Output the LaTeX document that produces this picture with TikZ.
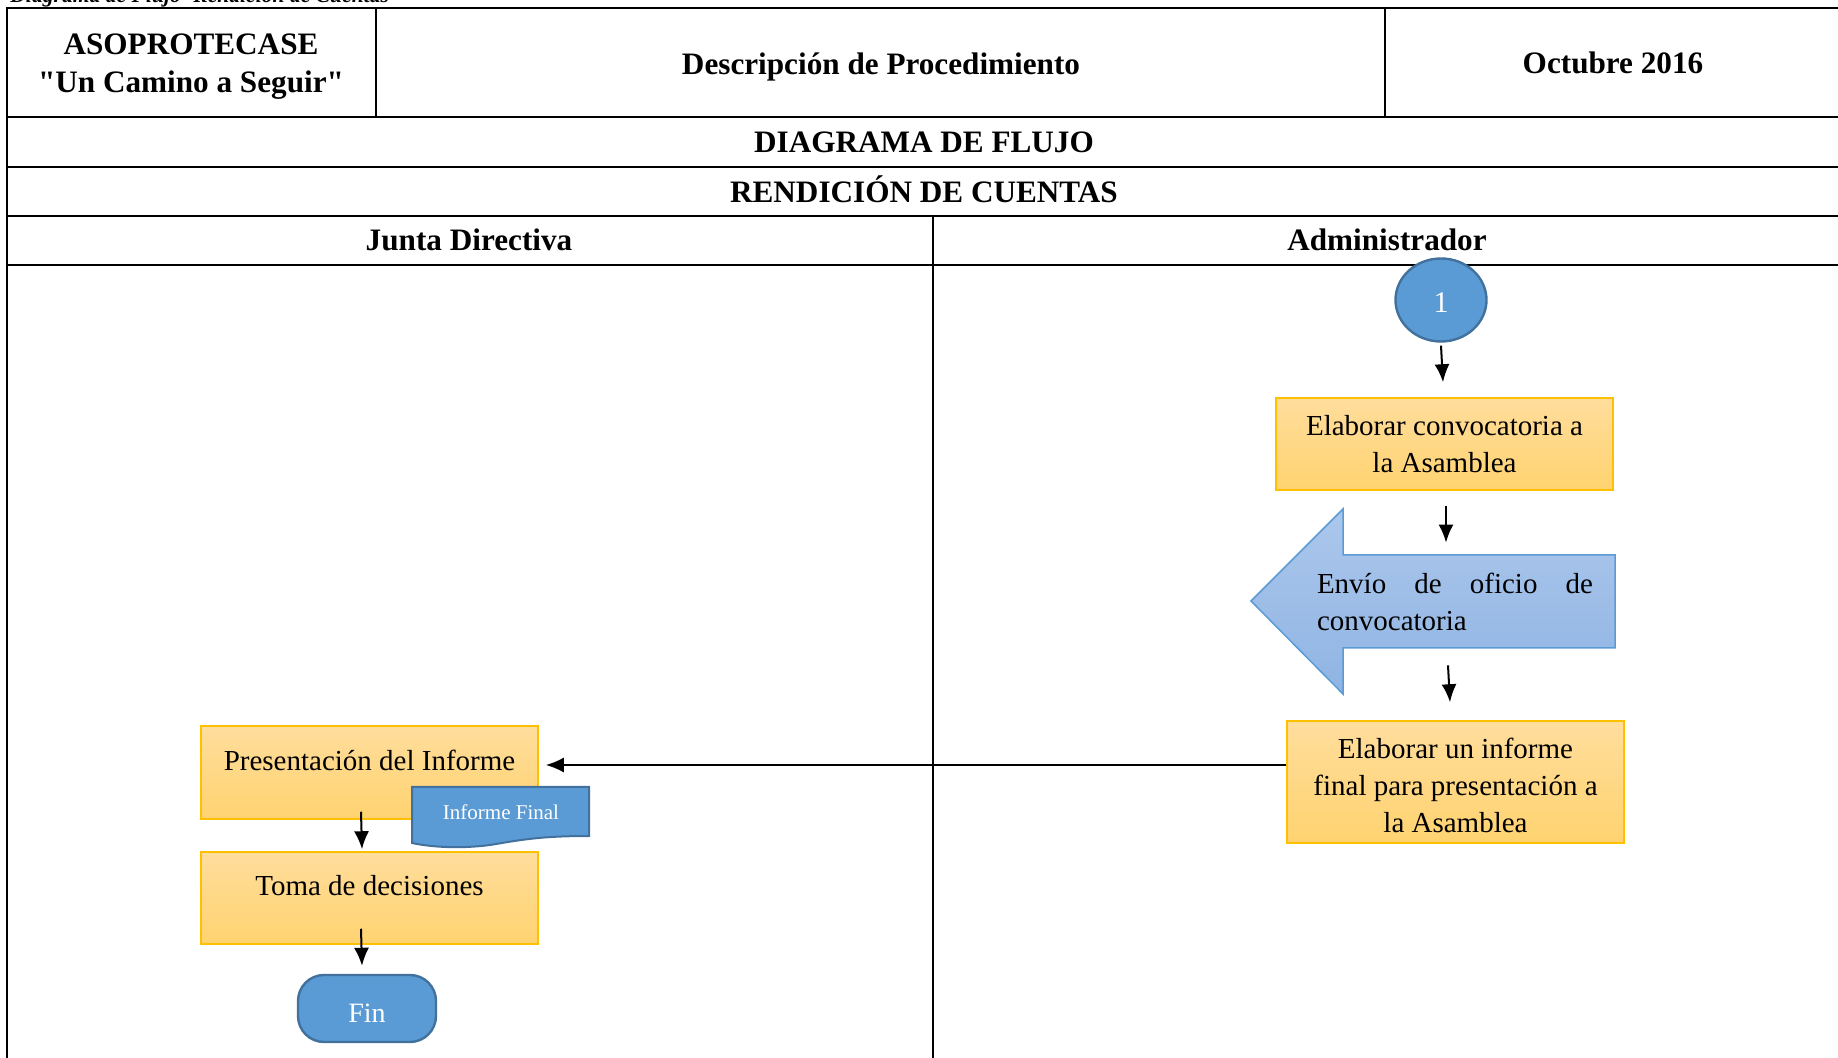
\documentclass[tikz,border=0pt]{standalone}
\usepackage{fontspec}
\setmainfont{Liberation Serif}[Ligatures=TeXOff]
\usepackage{tikz}
\usetikzlibrary{calc,shapes.geometric,arrows.meta}
\definecolor{azulOffice}{RGB}{91,155,213}
\definecolor{azulBorde}{RGB}{65,113,156}
\definecolor{oro}{RGB}{255,192,0}
\definecolor{naranjaClaro}{RGB}{255,221,156}
\definecolor{naranjaOsc}{RGB}{255,211,112}
\definecolor{celesteClaro}{RGB}{172,199,236}
\definecolor{celesteOsc}{RGB}{143,180,227}
\newcommand{\letracaja}{\fontsize{14.5}{18.5}\selectfont}
\newcommand{\letratit}{\fontsize{15.6}{19}\selectfont\bfseries}
\tikzset{proceso/.style={draw=oro,line width=0.75pt,top color=naranjaClaro,bottom color=naranjaOsc,minimum width=168.5pt,inner sep=0pt,align=center,font=\letracaja},
         simbolo/.style={draw=azulBorde,line width=1.2pt,fill=azulOffice,text=white},
         rejilla/.style={line width=1.2pt},
         titulo/.style={font=\letratit,align=center},
         flecha/.style={-{Latex[length=9pt,width=7.5pt]},line width=1pt}
}
\begin{document}
\begin{tikzpicture}[x=0.5pt,y=0.5pt,yscale=-1,xscale=1]
\useasboundingbox (0,0) rectangle (1838,1058);

% Caption (cut at the top of the page)
\node (leyenda) at (10,3) [anchor=base west,inner sep=0pt,font=\fontsize{10.8}{13}\selectfont\bfseries\itshape] {Diagrama de Flujo -Rendición de Cuentas};

%Table
\draw[rejilla] (1840,8) -- (7,8) -- (7,1060);
\foreach \y in {117,167,216,265}
  \draw[rejilla] (7,\y) -- (1840,\y);
\draw[rejilla] (376,8) -- (376,117);
\draw[rejilla] (1385,8) -- (1385,117);
\draw[rejilla] (933,216) -- (933,1060);

% Text Node
\node (asop) at (191,67) [titulo] {ASOPROTECASE\\"Un Camino a Seguir"};
% Text Node
\node (desc) at (881,66.5) [titulo] {Descripción de Procedimiento};
% Text Node
\node (fecha) at (1613,63) [titulo] {Octubre 2016};
% Text Node
\node (diag) at (924,142) [titulo] {DIAGRAMA DE FLUJO};
% Text Node
\node (rend) at (924,189) [titulo] {RENDICIÓN DE CUENTAS};
% Text Node
\node (junta) at (469,240) [titulo] {Junta Directiva};
% Text Node
\node (admin) at (1387,240) [titulo] {Administrador};

%Flowchart: Connector
\node (uno) at (1441,300) [simbolo,ellipse,minimum width=45.5pt,minimum height=41.5pt,inner sep=0pt,text height=12.5pt,font=\fontsize{15}{18}\selectfont] {1};
%Flowchart: Process
\node (conv) at (1444.5,444) [proceso,minimum height=46pt] {Elaborar convocatoria a\\la Asamblea};
%Shape: Left Arrow
\draw[draw=azulOffice,line width=0.75pt,top color=celesteClaro,bottom color=celesteOsc] (1251,601) -- (1343,509) -- (1343,555) -- (1615,555) -- (1615,648) -- (1343,648) -- (1343,694) -- cycle;
\node (envio) at (1455,601.5) [text width=138pt,minimum height=46.5pt,inner sep=0pt,align=left,font=\letracaja] {\hbox to 138pt{Envío\hfill de\hfill oficio\hfill de}\\convocatoria};
%Flowchart: Process
\node (informe) at (1455.5,782) [proceso,minimum height=61pt] {\rule{0pt}{13.5pt}Elaborar un informe\\final para presentación a\\la Asamblea};
%Flowchart: Process
\node (pres) at (369.5,772.5) [proceso,minimum height=46.5pt,text depth=12.7pt] {Presentación del Informe};
%Flowchart: Document
\draw[simbolo,line width=1pt] (412,787) -- (589,787) -- (589,836) .. controls (540,836) and (520,840) .. (490,845) .. controls (460,849) and (430,847) .. (412,843) -- cycle;
\node (docfin) at (501,812) [text=white,font=\fontsize{10.5}{12}\selectfont] {Informe Final};
%Flowchart: Process
\node (toma) at (369.5,898) [proceso,minimum height=46pt,text depth=12.7pt] {Toma de decisiones};
%Flowchart: Terminator
\node (fin) at (367,1008.5) [simbolo,rounded corners=13pt,minimum width=69pt,minimum height=33.5pt,inner sep=0pt,text height=13.8pt,font=\fontsize{14}{16}\selectfont] {Fin};

%Straight Lines
\draw[flecha] ($(uno.south)+(0,3)$) -- ($(conv.north)+(-1.5,-15)$);
\draw[flecha] ($(conv.south)+(1.5,15)$) -- ($(envio.north)+(-9,-12)$);
\draw[flecha] ($(envio.south)+(-7,17)$) -- ($(informe.north)+(-5.5,-18)$);
\draw[flecha] ($(informe.west)+(0,-17)$) -- ($(pres.east)+(7,-7.5)$);
\draw[flecha] ($(pres.south)+(-8.5,-8)$) -- ($(toma.north)+(-7.5,-2)$);
\draw[flecha] ($(toma.south)+(-8.5,-16)$) -- ($(fin.north)+(-5,-8)$);

\end{tikzpicture}
\end{document}
